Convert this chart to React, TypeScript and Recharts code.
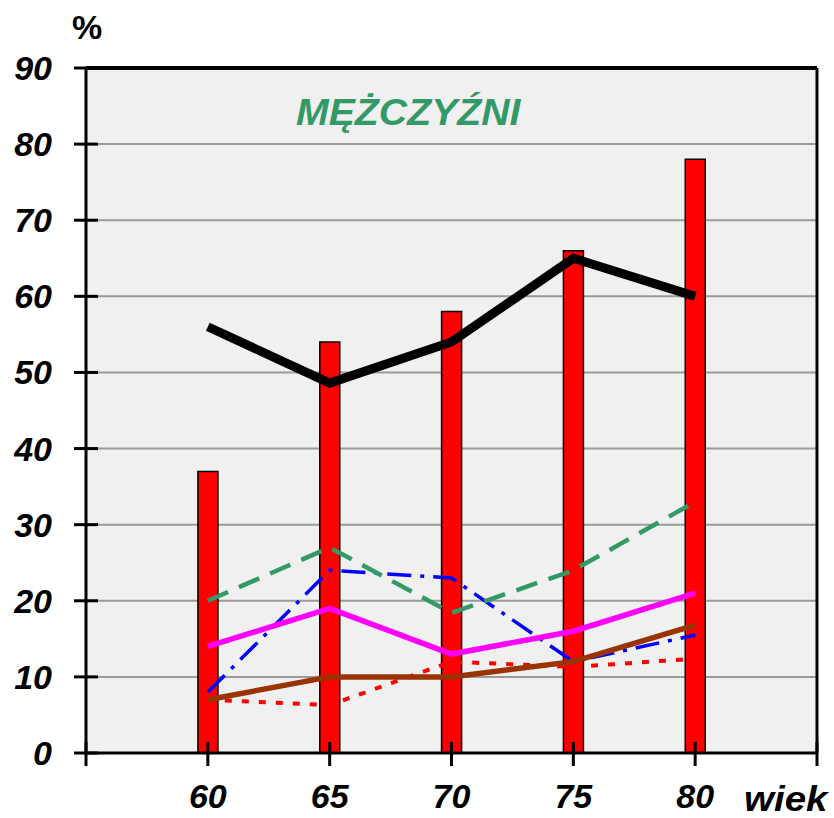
import {
  ComposedChart,
  Bar,
  Line,
  XAxis,
  YAxis,
  CartesianGrid,
  ReferenceLine,
} from "recharts";

// age groups (years) and share of men (%) per series
const ages = [60, 65, 70, 75, 80];
const barValues = [37, 54, 58, 66, 78];
const blackValues = [56, 48.6, 54, 65, 60];
const greenValues = [20, 27, 18.4, 24, 33];
const blueValues = [8, 24, 23, 12, 15.5];
const magentaValues = [14, 19, 13, 16, 21];
const brownValues = [7, 10, 10, 12, 16.8];
const redValues = [7, 6.3, 12, 11.3, 12.4];

const xTicks = [55, 60, 65, 70, 75, 80, 85];
const yTicks = [0, 10, 20, 30, 40, 50, 60, 70, 80, 90];

const data = ages.map((age, i) => ({
  age,
  bar: barValues[i],
  black: blackValues[i],
  green: greenValues[i],
  blue: blueValues[i],
  magenta: magentaValues[i],
  brown: brownValues[i],
  red: redValues[i],
}));

const labelFont = "Arial, 'Liberation Sans', sans-serif";

function YTick(props: any) {
  const { x, y, payload } = props;
  return (
    <g>
      <line x1={x - 12} x2={x + 12} y1={y} y2={y} stroke="#000" strokeWidth={3} />
      <text
        x={x - 34}
        y={y + 12}
        textAnchor="end"
        fontFamily={labelFont}
        fontSize={34}
        fontWeight="bold"
        fontStyle="italic"
        fill="#000"
      >
        {payload.value}
      </text>
    </g>
  );
}

function XTick(props: any) {
  const { x, y, payload } = props;
  const shown = payload.value > 55 && payload.value < 85;
  return (
    <g>
      <line x1={x} x2={x} y1={y - 11} y2={y + 13} stroke="#000" strokeWidth={3} />
      {shown && (
        <text
          x={x}
          y={y + 55}
          textAnchor="middle"
          fontFamily={labelFont}
          fontSize={34}
          fontWeight="bold"
          fontStyle="italic"
          fill="#000"
        >
          {payload.value}
        </text>
      )}
    </g>
  );
}

export default function App() {
  return (
    <div style={{ position: "absolute", left: 0, top: 0, width: 834, height: 818, background: "#fff" }}>
      <ComposedChart
        width={834}
        height={818}
        data={data}
        margin={{ top: 68, right: 17, left: 0, bottom: 0 }}
      >
        <CartesianGrid
          horizontal
          vertical={false}
          stroke="#9a9a9a"
          strokeWidth={2}
          fill="#f0f0f0"
          fillOpacity={1}
        />
        <XAxis
          dataKey="age"
          type="number"
          domain={[55, 85]}
          ticks={xTicks}
          interval={0}
          height={65}
          tickSize={0}
          tickMargin={0}
          tick={<XTick />}
          axisLine={{ stroke: "#000", strokeWidth: 3 }}
          tickLine={false}
        />
        <YAxis
          type="number"
          domain={[0, 90]}
          ticks={yTicks}
          interval={0}
          width={86}
          tickSize={0}
          tickMargin={0}
          tick={<YTick />}
          axisLine={{ stroke: "#000", strokeWidth: 3 }}
          tickLine={false}
        />
        <ReferenceLine y={90} stroke="#000" strokeWidth={4} />
        <ReferenceLine x={85} stroke="#000" strokeWidth={3} />
        <Bar dataKey="bar" barSize={20} fill="#ff0000" stroke="#000" strokeWidth={1.5} isAnimationActive={false} />
        <Line dataKey="red" stroke="#ff0000" strokeWidth={4} strokeDasharray="7 10" dot={false} isAnimationActive={false} />
        <Line dataKey="blue" stroke="#0000ff" strokeWidth={3.5} strokeDasharray="24 9 4 9" dot={false} isAnimationActive={false} />
        <Line dataKey="green" stroke="#339966" strokeWidth={4.5} strokeDasharray="22 12" dot={false} isAnimationActive={false} />
        <Line dataKey="brown" stroke="#993300" strokeWidth={5.5} dot={false} isAnimationActive={false} />
        <Line dataKey="magenta" stroke="#ff00ff" strokeWidth={5.5} dot={false} isAnimationActive={false} />
        <Line dataKey="black" stroke="#000" strokeWidth={9} dot={false} isAnimationActive={false} />
      </ComposedChart>
      <div
        style={{
          position: "absolute",
          left: 72,
          top: 6,
          fontFamily: labelFont,
          fontSize: 34,
          fontWeight: "bold",
          lineHeight: "42px",
        }}
      >
        %
      </div>
      <div
        style={{
          position: "absolute",
          left: 296,
          top: 91,
          fontFamily: labelFont,
          fontSize: 36,
          fontWeight: "bold",
          fontStyle: "italic",
          color: "#339966",
          lineHeight: "44px",
          transform: "scaleX(1.09)",
          transformOrigin: "left center",
          whiteSpace: "nowrap",
        }}
      >
        MĘŻCZYŹNI
      </div>
      <div
        style={{
          position: "absolute",
          left: 744,
          top: 778,
          fontFamily: labelFont,
          fontSize: 35,
          fontWeight: "bold",
          fontStyle: "italic",
          lineHeight: "42px",
          transform: "scaleX(1.1)",
          transformOrigin: "left center",
          whiteSpace: "nowrap",
        }}
      >
        wiek
      </div>
    </div>
  );
}
